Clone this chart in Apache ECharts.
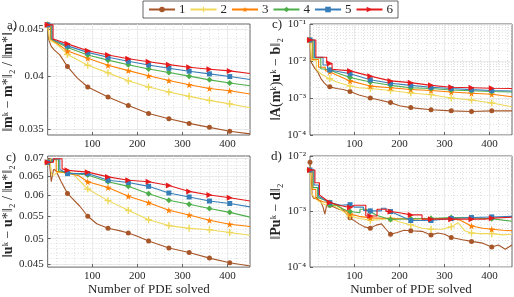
<!DOCTYPE html>
<html><head><meta charset="utf-8">
<script src="https://cdn.jsdelivr.net/npm/echarts@6/dist/echarts.min.js"></script>
<style>html,body{margin:0;padding:0;background:#fff}#c{width:514px;height:297px}</style>
</head><body><div id="c"></div>
<script>
// ---------- data ----------
const seriesNames = ['1', '2', '3', '4', '5', '6'];
const markerX = [1, 45, 90, 135, 180, 225, 270, 315, 360, 405];
const xTicks = [100, 200, 300, 400];

// panel a) ||m^k - m*|| / ||m*||
const a1 = [[1,0.0455],[3,0.0455],[3,0.0439],[9,0.0431],[16,0.0427],[28,0.0422],[45,0.04097],[67,0.0398],[90,0.03892],[135,0.03796],[180,0.03715],[225,0.03642],[270,0.03594],[315,0.03552],[360,0.03517],[405,0.03483],[450,0.0346]];
const a2 = [[1,0.0455],[5,0.0455],[5,0.0438],[20,0.0434],[45,0.04224],[90,0.04111],[135,0.04033],[180,0.03953],[225,0.03892],[270,0.03844],[315,0.03802],[360,0.03764],[405,0.03731],[450,0.03694]];
const a3 = [[1,0.0455],[7,0.0455],[7,0.0439],[20,0.0435],[45,0.0426],[90,0.04183],[135,0.04111],[180,0.04056],[225,0.04004],[270,0.03956],[315,0.03914],[360,0.03878],[405,0.03856],[450,0.03824]];
const a4 = [[1,0.0455],[9,0.0455],[9,0.0439],[20,0.0436],[45,0.04299],[90,0.04218],[135,0.04164],[180,0.04117],[225,0.04073],[270,0.04036],[315,0.0400],[360,0.03963],[405,0.03931],[450,0.03904]];
const a5 = [[1,0.0455],[11,0.0455],[11,0.0439],[20,0.0437],[45,0.04316],[90,0.04246],[135,0.04194],[180,0.04152],[225,0.04114],[270,0.0408],[315,0.0405],[360,0.04023],[405,0.03996],[450,0.03966]];
const a6 = [[1,0.0455],[13,0.0455],[13,0.0439],[20,0.0438],[45,0.04338],[90,0.04263],[135,0.04218],[180,0.04179],[225,0.04148],[270,0.04117],[315,0.04091],[360,0.0407],[405,0.04053],[450,0.04026]];

// panel b) ||A(m^k)u^k - b||
const b1 = [[1,0.037],[3,0.037],[3,0.0096],[8,0.0075],[13,0.006],[18,0.0051],[25,0.0034],[32,0.0026],[40,0.0021],[45,0.002],[60,0.0018],[75,0.0017],[90,0.0015],[110,0.0012],[135,0.001],[155,0.00088],[180,0.00075],[200,0.00062],[225,0.00055],[270,0.00048],[315,0.00045],[360,0.00043],[405,0.00045],[450,0.00045]];
const b2 = [[1,0.037],[4,0.037],[4,0.0105],[15,0.0105],[15,0.006],[25,0.0045],[35,0.0038],[45,0.0033],[60,0.0027],[90,0.0021],[110,0.0019],[135,0.0018],[180,0.0016],[225,0.00137],[270,0.00123],[315,0.001],[360,0.00088],[405,0.00073],[450,0.00058]];
const b3 = [[1,0.037],[6,0.037],[6,0.011],[20,0.011],[20,0.0068],[35,0.0068],[35,0.0055],[45,0.0051],[60,0.0042],[90,0.0029],[135,0.0021],[180,0.0019],[225,0.0017],[270,0.0016],[315,0.00145],[360,0.00134],[405,0.00126],[450,0.00108]];
const b4 = [[1,0.037],[8,0.037],[8,0.012],[25,0.012],[25,0.0062],[45,0.0058],[60,0.0048],[90,0.0036],[135,0.0027],[180,0.0022],[225,0.0019],[270,0.0018],[315,0.00164],[360,0.00157],[405,0.0015],[450,0.00145]];
const b5 = [[1,0.037],[11,0.037],[11,0.0125],[30,0.0125],[30,0.0078],[40,0.0078],[40,0.006],[45,0.0057],[90,0.0045],[135,0.0031],[180,0.0025],[225,0.0022],[270,0.00195],[315,0.0018],[360,0.00168],[405,0.0016],[450,0.00155]];
const b6 = [[1,0.037],[14,0.037],[14,0.0126],[38,0.0126],[38,0.0088],[45,0.0085],[50,0.0085],[50,0.006],[90,0.0054],[135,0.0039],[180,0.0029],[225,0.0026],[270,0.0022],[315,0.00195],[360,0.0019],[405,0.00183],[450,0.0018]];

// panel c) ||u^k - u*|| / ||u*||
const c1 = [[1,0.0688],[4,0.0700],[9,0.0634],[14,0.0667],[19,0.0665],[31,0.0634],[45,0.0604],[55,0.0592],[72,0.0573],[90,0.0549],[110,0.0532],[135,0.0522],[160,0.0517],[180,0.0512],[200,0.0505],[225,0.0495],[270,0.0481],[315,0.0472],[360,0.0461],[405,0.0452],[450,0.0446]];
const c2 = [[1,0.0688],[6,0.0688],[6,0.0695],[10,0.0653],[16,0.0652],[22,0.066],[45,0.0658],[60,0.0652],[90,0.0615],[135,0.0586],[180,0.0563],[225,0.0541],[270,0.0528],[315,0.0522],[360,0.0519],[405,0.0513],[450,0.0507]];
const c3 = [[1,0.0688],[8,0.0688],[8,0.0696],[20,0.0696],[20,0.0662],[45,0.0658],[70,0.065],[90,0.0634],[135,0.0619],[180,0.0597],[225,0.0581],[270,0.0563],[315,0.0552],[360,0.054],[405,0.0531],[450,0.0526]];
const c4 = [[1,0.0688],[10,0.0688],[10,0.0695],[25,0.0695],[25,0.0664],[45,0.0658],[90,0.0652],[135,0.0634],[180,0.0622],[225,0.0603],[270,0.0587],[315,0.0577],[360,0.0567],[405,0.0558],[450,0.0547]];
const c5 = [[1,0.0688],[12,0.0688],[12,0.0697],[28,0.0697],[28,0.0667],[45,0.0656],[90,0.0656],[135,0.0638],[180,0.0632],[225,0.0622],[270,0.0605],[315,0.0595],[360,0.0585],[405,0.0579],[450,0.0571]];
const c6 = [[1,0.0688],[14,0.0688],[14,0.0698],[33,0.0698],[33,0.0669],[45,0.0665],[90,0.066],[135,0.0647],[180,0.0638],[225,0.0634],[270,0.0624],[315,0.0609],[360,0.06],[405,0.0593],[450,0.0585]];

// panel d) ||Pu^k - d||
const d1 = [[1,0.0077],[3,0.0045],[6,0.0019],[10,0.0017],[15,0.0018],[20,0.0016],[25,0.0015],[30,0.0012],[34,0.0009],[38,0.0013],[45,0.0013],[55,0.0012],[65,0.0011],[75,0.00105],[90,0.00077],[100,0.00068],[110,0.0006],[122,0.00053],[135,0.0005],[148,0.00057],[160,0.0006],[170,0.00048],[180,0.00039],[195,0.00042],[210,0.00046],[225,0.00045],[250,0.00044],[270,0.00038],[285,0.00041],[300,0.00039],[315,0.00034],[340,0.00031],[360,0.00029],[385,0.00027],[405,0.00023],[420,0.00025],[435,0.00021],[450,0.00025]];
const d2 = [[1,0.0056],[4,0.0056],[4,0.0022],[10,0.0018],[18,0.0016],[28,0.0014],[38,0.0013],[45,0.0014],[60,0.0012],[75,0.001],[90,0.00083],[110,0.00075],[135,0.0007],[160,0.00072],[180,0.00075],[200,0.00065],[225,0.00058],[250,0.0005],[270,0.00048],[295,0.00048],[315,0.00053],[330,0.00063],[345,0.00045],[360,0.00041],[380,0.0004],[405,0.0004],[430,0.00038],[450,0.00039]];
const d3 = [[1,0.0056],[6,0.0056],[6,0.0025],[14,0.0025],[14,0.0017],[30,0.0015],[45,0.00145],[60,0.0013],[75,0.0011],[90,0.0009],[110,0.00082],[135,0.00077],[180,0.00075],[225,0.00073],[270,0.00075],[315,0.00075],[335,0.0007],[360,0.00055],[385,0.0005],[405,0.00048],[430,0.00046],[450,0.00045]];
const d4 = [[1,0.0056],[8,0.0056],[8,0.0027],[18,0.0027],[18,0.0018],[35,0.0016],[45,0.0013],[60,0.0013],[75,0.0011],[90,0.001],[112,0.00095],[112,0.0011],[125,0.0011],[135,0.001],[150,0.00085],[165,0.00078],[180,0.00072],[225,0.00074],[270,0.00075],[315,0.00078],[360,0.00077],[405,0.00074],[430,0.0007],[450,0.00067]];
const d5 = [[1,0.0056],[10,0.0056],[10,0.003],[20,0.003],[20,0.0019],[35,0.0016],[45,0.00145],[70,0.0013],[90,0.00133],[100,0.0012],[120,0.0012],[120,0.00105],[135,0.00103],[160,0.00103],[160,0.00115],[170,0.00115],[170,0.001],[180,0.001],[200,0.00085],[225,0.00069],[270,0.00069],[290,0.00072],[315,0.00075],[360,0.00078],[405,0.0008],[450,0.00082]];
const d6 = [[1,0.0056],[12,0.0056],[12,0.0033],[22,0.0033],[22,0.002],[38,0.0016],[45,0.00145],[65,0.0013],[90,0.00118],[100,0.0013],[125,0.0013],[125,0.00083],[135,0.00083],[150,0.00083],[150,0.0011],[170,0.0011],[170,0.001],[180,0.001],[200,0.00095],[225,0.00087],[250,0.00087],[250,0.00073],[270,0.00073],[315,0.00073],[360,0.00073],[390,0.00073],[390,0.00076],[405,0.00076],[450,0.00079]];

// y tick labels
const aTickVals = [0.035, 0.04, 0.045];
const aTickLabels = ['0.035', '0.04', '0.045'];
const cTickVals = [0.045, 0.05, 0.055, 0.06, 0.065, 0.07];
const cTickLabels = ['0.045', '0.05', '0.055', '0.06', '0.065', '0.07'];
const bTickVals = [1e-4, 1e-3, 1e-2, 1e-1];
const bTickLabels = ['10⁻⁴', '10⁻³', '10⁻²', '10⁻¹'];
const dTickVals = [1e-4, 1e-3, 1e-2];
const dTickLabels = ['10⁻⁴', '10⁻³', '10⁻²'];
const aMinor = [0.036, 0.037, 0.038, 0.039, 0.041, 0.042, 0.043, 0.044];
const cMinor = [0.046, 0.047, 0.048, 0.049, 0.051, 0.052, 0.053, 0.054, 0.056, 0.057, 0.058, 0.059, 0.061, 0.062, 0.063, 0.064, 0.066, 0.067, 0.068, 0.069, 0.070];
const logMinor = [];
[1e-4, 1e-3, 1e-2].forEach(d => { for (let k = 2; k <= 9; k++) logMinor.push(+(k * d).toPrecision(3)); });
const xMinor = [20,40,60,80,120,140,160,180,220,240,260,280,320,340,360,380,420,440];

const xLabel = 'Number of PDE solved';
const yNames = [
  '‖{b|m}ᵏ − {b|m}*‖₂ / ‖{b|m}*‖₂',
  '‖{b|A}({b|m}ᵏ){b|u}ᵏ − {b|b}‖₂',
  '‖{b|u}ᵏ − {b|u}*‖₂ / ‖{b|u}*‖₂',
  '‖{b|P}{b|u}ᵏ − {b|d}‖₂'
];
const panelTags = ['a)', 'c)', 'c)', 'd)'];

// ---------- style ----------
const FONT = 'Liberation Serif';
const TXT = '#262626';
const colors = ['#a65628', '#efd95a', '#ff7f00', '#4daf4a', '#377eb8', '#e41a1c'];
const symbols = [
  'circle',
  'path://M4,0H6V4H10V6H6V10H4V6H0V4H4Z',
  'path://M50,0L61,35L98,35L68,57L79,91L50,70L21,91L32,57L2,35L39,35Z',
  'diamond',
  'rect',
  'path://M0,0L10,5L0,10Z'
];
const symSizes = [5, 7, 7, 6, 5, 6];

const panels = [
  {data: [a1,a2,a3,a4,a5,a6], yMin: 0.0345, yMax: 0.0456, ticks: aTickVals, labels: aTickLabels, minor: aMinor,
   grid: {left: 46, top: 24, width: 204, height: 111}, nameGap: 28, xName: ''},
  {data: [b1,b2,b3,b4,b5,b6], yMin: 1e-4, yMax: 1e-1, ticks: bTickVals, labels: bTickLabels, minor: logMinor,
   grid: {left: 310, top: 24, width: 202, height: 111}, nameGap: 27, xName: ''},
  {data: [c1,c2,c3,c4,c5,c6], yMin: 0.0444, yMax: 0.0706, ticks: cTickVals, labels: cTickLabels, minor: cMinor,
   grid: {left: 46, top: 156, width: 204, height: 114}, nameGap: 28, xName: xLabel},
  {data: [d1,d2,d3,d4,d5,d6], yMin: 1e-4, yMax: 1e-2, ticks: dTickVals, labels: dTickLabels, minor: logMinor,
   grid: {left: 310, top: 156, width: 202, height: 114}, nameGap: 27, xName: xLabel}
];

const grid = [], xAxis = [], yAxis = [], series = [];
panels.forEach((p, i) => {
  grid.push(Object.assign({show: true, borderColor: '#404040', borderWidth: 0.8, backgroundColor: '#fff'}, p.grid));
  xAxis.push({
    type: 'value', gridIndex: i, min: 1, max: 450,
    name: p.xName, nameLocation: 'middle', nameGap: 15,
    nameTextStyle: {fontFamily: FONT, fontSize: 13, color: TXT},
    axisLine: {show: false},
    axisTick: {show: true, inside: true, length: 3, customValues: xTicks, lineStyle: {color: '#404040', width: 0.8}},
    axisLabel: {show: true, customValues: xTicks, fontFamily: FONT, fontSize: 11, color: TXT, margin: 4},
    splitLine: {show: true, lineStyle: {color: '#e4e4e4', width: 0.8}}
  });
  yAxis.push({
    type: 'log', logBase: 10, gridIndex: i, min: p.yMin, max: p.yMax,
    name: yNames[i], nameLocation: 'middle', nameGap: p.nameGap, nameRotate: 90,
    nameTextStyle: {fontFamily: FONT, fontSize: 14, color: TXT,
      rich: {b: {fontFamily: FONT, fontSize: 14, fontWeight: 'bold', color: TXT}}},
    axisLine: {show: false},
    axisTick: {show: true, inside: true, length: 3, customValues: p.ticks, lineStyle: {color: '#404040', width: 0.8}},
    axisLabel: {show: true, customValues: p.ticks, fontFamily: FONT, fontSize: 11, color: TXT, margin: 4,
      formatter: (v) => {
        let best = 0, bd = Infinity;
        p.ticks.forEach((t, k) => { const dd = Math.abs(Math.log(v / t)); if (dd < bd) { bd = dd; best = k; } });
        return p.labels[best];
      }},
    splitLine: {show: true, lineStyle: {color: '#e4e4e4', width: 0.8}}
  });
});
// minor grid axes
panels.forEach((p, i) => {
  xAxis.push({
    type: 'value', gridIndex: i, min: 1, max: 450, position: 'top',
    axisLine: {show: false}, axisLabel: {show: false},
    axisTick: {show: false, customValues: xMinor},
    splitLine: {show: true, lineStyle: {color: '#d2d2d2', width: 0.7, type: [1, 2]}}
  });
  yAxis.push({
    type: 'log', logBase: 10, gridIndex: i, min: p.yMin, max: p.yMax, position: 'right',
    axisLine: {show: false}, axisLabel: {show: false},
    axisTick: {show: false, customValues: p.minor},
    splitLine: {show: true, lineStyle: {color: '#d2d2d2', width: 0.7, type: [1, 2]}}
  });
});

panels.forEach((p, i) => {
  p.data.forEach((pairs, s) => {
    series.push({
      type: 'line', name: seriesNames[s], xAxisIndex: i, yAxisIndex: i,
      data: pairs.map(([x, y]) => ({value: [x, y], symbol: markerX.includes(x) ? symbols[s] : 'none'})),
      symbol: symbols[s], symbolSize: symSizes[s], showSymbol: true,
      color: colors[s],
      itemStyle: {color: colors[s], borderWidth: 0},
      lineStyle: {color: colors[s], width: 1.1},
      emphasis: {disabled: true}, animation: false, clip: true, z: 3 + s
    });
  });
});

const graphic = [
  {type: 'text', left: 7, top: 19, style: {text: panelTags[0], font: '13px "Liberation Serif"', fill: TXT}},
  {type: 'text', left: 272, top: 18, style: {text: panelTags[1], font: '13px "Liberation Serif"', fill: TXT}},
  {type: 'text', left: 6, top: 151, style: {text: panelTags[2], font: '13px "Liberation Serif"', fill: TXT}},
  {type: 'text', left: 271, top: 150, style: {text: panelTags[3], font: '13px "Liberation Serif"', fill: TXT}}
];

const option = {
  animation: false,
  backgroundColor: '#fff',
  grid, xAxis, yAxis, series, graphic,
  legend: {
    data: seriesNames, left: 143, top: 1, orient: 'horizontal',
    itemWidth: 26, itemHeight: 7, itemGap: 4,
    padding: [2, 5, 2, 5],
    borderColor: '#404040', borderWidth: 0.8, backgroundColor: '#fff',
    textStyle: {fontFamily: FONT, fontSize: 13, color: TXT, padding: [0, 0, 0, -1]}
  }
};
const chart = echarts.init(document.getElementById('c'));
chart.setOption(option);
</script></body></html>
